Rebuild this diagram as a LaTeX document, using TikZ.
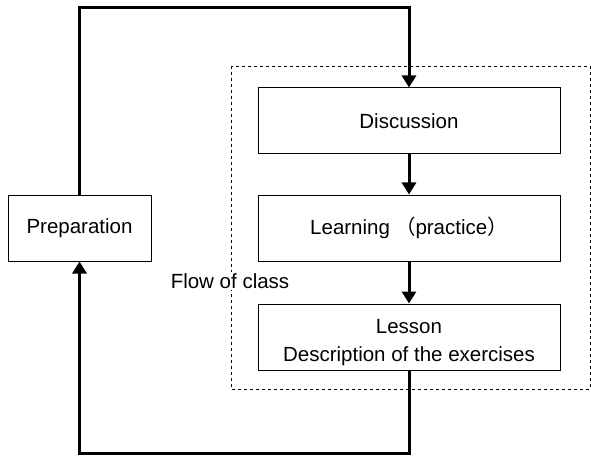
\documentclass[tikz,border=0pt]{standalone}
\usepackage{fontspec}
\setmainfont{Liberation Sans}
\newfontfamily\cjk{Noto Sans CJK SC}
\usetikzlibrary{arrows.meta}
\begin{document}
\begin{tikzpicture}[x=1pt, y=-1pt,
		stagebox/.style={draw, line width=1pt, minimum width=302pt, minimum height=66pt,
			align=center, inner sep=0pt, font=\fontsize{20.5}{28}\selectfont},
		flow/.style={line width=3pt, -{Triangle[width=14pt, length=12pt]}}]
			\useasboundingbox (0,0) rectangle (591,457);

			% Draw the class frame
			\draw[dashed, line width=0.8pt] (231,66) rectangle (590,389);
			\node[fill=white, inner sep=1pt, font=\fontsize{20.5}{24}\selectfont] (classlbl) at (230,281) {Flow of class};

			% Draw the stages
			\node[stagebox] (disc) at (409,121) {Discussion};
			\node[stagebox] (learn) at (409,228) {Learning\hspace{5pt}{\cjk （}practice{\cjk ）}};
			\node[stagebox] (lesson) at (409,337) {\rule{0pt}{26pt}Lesson\\Description of the exercises};
			\node[stagebox, minimum width=143pt] (prep) at (79.5,228) {Preparation};

			% Draw the arrows
			\draw[flow] (disc.south) -- (learn.north);
			\draw[flow] (learn.south) -- (lesson.north);
			\coordinate (looptop) at (244,8);
			\coordinate (loopbot) at (244,453);
			\draw[flow] (prep.north) |- (looptop) -| (disc.north);
			\draw[flow] (lesson.south) |- (loopbot) -| (prep.south);
		\end{tikzpicture}
\end{document}
